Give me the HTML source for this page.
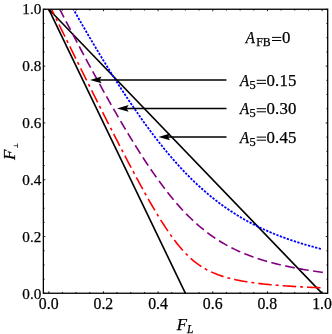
<!DOCTYPE html>
<html><head><meta charset="utf-8"><style>
html,body{margin:0;padding:0;background:#fff;}
svg{display:block;will-change:transform;font-family:"Liberation Serif",serif;}
</style></head><body>
<svg width="332" height="334" viewBox="0 0 332 334">
<rect width="332" height="334" fill="#fff"/>
<defs><clipPath id="c"><rect x="43.35" y="9.25" width="284.34999999999997" height="284.0"/></clipPath></defs>
<g clip-path="url(#c)" fill="none">
<path d="M48.8 9.299999999999955 L185.45 293.4" stroke="#000" stroke-width="1.6"/>
<path d="M48.8 9.299999999999955 L322.1 293.4" stroke="#000" stroke-width="1.6"/>
<path d="M73.40 9.30 L74.95 12.03 L76.51 14.76 L78.06 17.48 L79.61 20.19 L81.17 22.89 L82.72 25.58 L84.28 28.26 L85.83 30.94 L87.39 33.60 L88.94 36.26 L90.50 38.90 L92.05 41.53 L93.60 44.16 L95.16 46.77 L96.71 49.38 L98.27 51.97 L99.82 54.55 L101.38 57.12 L102.93 59.68 L104.48 62.23 L106.04 64.76 L107.59 67.28 L109.15 69.79 L110.70 72.29 L112.26 74.78 L113.81 77.25 L115.37 79.71 L116.92 82.15 L118.47 84.58 L120.03 87.00 L121.58 89.40 L123.14 91.79 L124.69 94.16 L126.25 96.52 L127.80 98.86 L129.36 101.19 L130.91 103.50 L132.46 105.80 L134.02 108.08 L135.57 110.34 L137.13 112.59 L138.68 114.81 L140.24 117.03 L141.79 119.22 L143.34 121.40 L144.90 123.55 L146.45 125.69 L148.01 127.82 L149.56 129.92 L151.12 132.00 L152.67 134.07 L154.23 136.11 L155.78 138.14 L157.33 140.15 L158.89 142.13 L160.44 144.10 L162.00 146.05 L163.55 147.97 L165.11 149.88 L166.66 151.76 L168.22 153.63 L169.77 155.47 L171.32 157.29 L172.88 159.09 L174.43 160.87 L175.99 162.63 L177.54 164.37 L179.10 166.08 L180.65 167.77 L182.20 169.45 L183.76 171.10 L185.31 172.72 L186.87 174.33 L188.42 175.92 L189.98 177.48 L191.53 179.02 L193.09 180.54 L194.64 182.04 L196.19 183.52 L197.75 184.97 L199.30 186.41 L200.86 187.82 L202.41 189.22 L203.97 190.59 L205.52 191.94 L207.07 193.27 L208.63 194.58 L210.18 195.87 L211.74 197.13 L213.29 198.38 L214.85 199.61 L216.40 200.82 L217.96 202.01 L219.51 203.18 L221.06 204.33 L222.62 205.46 L224.17 206.58 L225.73 207.67 L227.28 208.75 L228.84 209.81 L230.39 210.85 L231.95 211.87 L233.50 212.88 L235.05 213.86 L236.61 214.84 L238.16 215.79 L239.72 216.73 L241.27 217.65 L242.83 218.56 L244.38 219.45 L245.93 220.33 L247.49 221.19 L249.04 222.04 L250.60 222.87 L252.15 223.68 L253.71 224.49 L255.26 225.28 L256.82 226.05 L258.37 226.81 L259.92 227.56 L261.48 228.30 L263.03 229.02 L264.59 229.73 L266.14 230.43 L267.70 231.12 L269.25 231.79 L270.81 232.46 L272.36 233.11 L273.91 233.75 L275.47 234.38 L277.02 235.00 L278.58 235.61 L280.13 236.21 L281.69 236.80 L283.24 237.38 L284.79 237.95 L286.35 238.51 L287.90 239.06 L289.46 239.60 L291.01 240.13 L292.57 240.65 L294.12 241.17 L295.68 241.68 L297.23 242.18 L298.78 242.67 L300.34 243.15 L301.89 243.62 L303.45 244.09 L305.00 244.55 L306.56 245.00 L308.11 245.45 L309.66 245.88 L311.22 246.32 L312.77 246.74 L314.33 247.16 L315.88 247.57 L317.44 247.97 L318.99 248.37 L320.55 248.77 L322.10 249.15" stroke="#0000ff" stroke-width="1.8" stroke-dasharray="2.3 1.4" stroke-dashoffset="1.15"/>
<path d="M59.73 9.30 L61.38 12.47 L63.03 15.63 L64.67 18.79 L66.32 21.94 L67.97 25.08 L69.61 28.22 L71.26 31.35 L72.91 34.48 L74.55 37.60 L76.20 40.71 L77.84 43.81 L79.49 46.91 L81.14 50.00 L82.78 53.09 L84.43 56.16 L86.08 59.23 L87.72 62.29 L89.37 65.34 L91.02 68.38 L92.66 71.41 L94.31 74.43 L95.96 77.44 L97.60 80.45 L99.25 83.44 L100.90 86.42 L102.54 89.39 L104.19 92.34 L105.84 95.29 L107.48 98.22 L109.13 101.14 L110.78 104.05 L112.42 106.95 L114.07 109.83 L115.72 112.69 L117.36 115.54 L119.01 118.38 L120.66 121.20 L122.30 124.00 L123.95 126.79 L125.60 129.55 L127.24 132.31 L128.89 135.04 L130.54 137.75 L132.18 140.44 L133.83 143.12 L135.48 145.77 L137.12 148.40 L138.77 151.01 L140.42 153.59 L142.06 156.15 L143.71 158.69 L145.36 161.20 L147.00 163.69 L148.65 166.15 L150.30 168.58 L151.94 170.99 L153.59 173.37 L155.24 175.72 L156.88 178.04 L158.53 180.33 L160.18 182.59 L161.82 184.81 L163.47 187.01 L165.12 189.17 L166.76 191.30 L168.41 193.40 L170.06 195.46 L171.70 197.49 L173.35 199.49 L175.00 201.45 L176.64 203.37 L178.29 205.26 L179.94 207.11 L181.58 208.92 L183.23 210.70 L184.88 212.45 L186.52 214.15 L188.17 215.82 L189.82 217.45 L191.46 219.05 L193.11 220.61 L194.76 222.14 L196.40 223.63 L198.05 225.08 L199.70 226.50 L201.34 227.88 L202.99 229.23 L204.64 230.55 L206.28 231.83 L207.93 233.08 L209.58 234.30 L211.22 235.49 L212.87 236.64 L214.52 237.77 L216.16 238.86 L217.81 239.93 L219.46 240.96 L221.10 241.97 L222.75 242.95 L224.40 243.91 L226.04 244.84 L227.69 245.74 L229.34 246.62 L230.98 247.47 L232.63 248.30 L234.28 249.11 L235.92 249.90 L237.57 250.66 L239.21 251.41 L240.86 252.13 L242.51 252.84 L244.15 253.52 L245.80 254.19 L247.45 254.84 L249.09 255.47 L250.74 256.09 L252.39 256.69 L254.03 257.27 L255.68 257.84 L257.33 258.39 L258.97 258.93 L260.62 259.46 L262.27 259.97 L263.91 260.47 L265.56 260.95 L267.21 261.43 L268.85 261.89 L270.50 262.34 L272.15 262.78 L273.79 263.21 L275.44 263.63 L277.09 264.03 L278.73 264.43 L280.38 264.82 L282.03 265.20 L283.67 265.57 L285.32 265.93 L286.97 266.29 L288.61 266.63 L290.26 266.97 L291.91 267.30 L293.55 267.63 L295.20 267.94 L296.85 268.25 L298.49 268.55 L300.14 268.85 L301.79 269.14 L303.43 269.42 L305.08 269.70 L306.73 269.97 L308.37 270.23 L310.02 270.49 L311.67 270.75 L313.31 271.00 L314.96 271.24 L316.61 271.48 L318.25 271.72 L319.90 271.95 L321.55 272.17 L323.19 272.39" stroke="#800080" stroke-width="1.6" stroke-dasharray="9.8 4.42" stroke-dashoffset="0.72"/>
<path d="M51.53 9.30 L53.23 12.76 L54.93 16.22 L56.63 19.67 L58.32 23.13 L60.02 26.58 L61.72 30.03 L63.42 33.48 L65.12 36.93 L66.81 40.37 L68.51 43.81 L70.21 47.25 L71.91 50.69 L73.61 54.12 L75.30 57.56 L77.00 60.99 L78.70 64.41 L80.40 67.83 L82.09 71.25 L83.79 74.67 L85.49 78.08 L87.19 81.49 L88.89 84.90 L90.58 88.30 L92.28 91.70 L93.98 95.09 L95.68 98.48 L97.38 101.86 L99.07 105.24 L100.77 108.61 L102.47 111.98 L104.17 115.34 L105.87 118.70 L107.56 122.05 L109.26 125.39 L110.96 128.73 L112.66 132.05 L114.35 135.37 L116.05 138.69 L117.75 141.99 L119.45 145.28 L121.15 148.56 L122.84 151.84 L124.54 155.10 L126.24 158.35 L127.94 161.58 L129.64 164.81 L131.33 168.01 L133.03 171.21 L134.73 174.39 L136.43 177.55 L138.12 180.69 L139.82 183.81 L141.52 186.91 L143.22 189.99 L144.92 193.04 L146.61 196.07 L148.31 199.07 L150.01 202.05 L151.71 204.99 L153.41 207.90 L155.10 210.77 L156.80 213.61 L158.50 216.40 L160.20 219.16 L161.89 221.86 L163.59 224.52 L165.29 227.13 L166.99 229.68 L168.69 232.18 L170.38 234.62 L172.08 236.99 L173.78 239.30 L175.48 241.54 L177.18 243.71 L178.87 245.81 L180.57 247.83 L182.27 249.78 L183.97 251.65 L185.67 253.45 L187.36 255.16 L189.06 256.80 L190.76 258.36 L192.46 259.85 L194.15 261.26 L195.85 262.61 L197.55 263.88 L199.25 265.08 L200.95 266.22 L202.64 267.30 L204.34 268.32 L206.04 269.28 L207.74 270.19 L209.44 271.05 L211.13 271.86 L212.83 272.62 L214.53 273.35 L216.23 274.03 L217.92 274.68 L219.62 275.29 L221.32 275.87 L223.02 276.42 L224.72 276.94 L226.41 277.44 L228.11 277.91 L229.81 278.35 L231.51 278.78 L233.21 279.18 L234.90 279.56 L236.60 279.93 L238.30 280.28 L240.00 280.61 L241.70 280.93 L243.39 281.23 L245.09 281.52 L246.79 281.80 L248.49 282.06 L250.18 282.32 L251.88 282.56 L253.58 282.80 L255.28 283.02 L256.98 283.24 L258.67 283.45 L260.37 283.65 L262.07 283.84 L263.77 284.03 L265.47 284.20 L267.16 284.38 L268.86 284.54 L270.56 284.70 L272.26 284.86 L273.95 285.01 L275.65 285.15 L277.35 285.30 L279.05 285.43 L280.75 285.56 L282.44 285.69 L284.14 285.81 L285.84 285.93 L287.54 286.05 L289.24 286.16 L290.93 286.27 L292.63 286.38 L294.33 286.48 L296.03 286.58 L297.73 286.68 L299.42 286.77 L301.12 286.87 L302.82 286.95 L304.52 287.04 L306.21 287.13 L307.91 287.21 L309.61 287.29 L311.31 287.37 L313.01 287.45 L314.70 287.52 L316.40 287.59 L318.10 287.67 L319.80 287.74 L321.50 287.80 L323.19 287.87" stroke="#ff0000" stroke-width="1.6" stroke-dasharray="13.5 4.02 2.9 4.05" stroke-dashoffset="7.52"/>
</g>
<path d="M96.0 79.9 H226.5" stroke="#000" stroke-width="1.5" fill="none"/><path d="M90.0 79.9 L101.6 76.6 L99.6 79.9 L101.6 83.2 Z" fill="#000"/><path d="M123.0 108.4 H226.5" stroke="#000" stroke-width="1.5" fill="none"/><path d="M117.0 108.4 L128.6 105.1 L126.6 108.4 L128.6 111.7 Z" fill="#000"/><path d="M164.4 136.9 H226.5" stroke="#000" stroke-width="1.5" fill="none"/><path d="M158.4 136.9 L170.0 133.6 L168.0 136.9 L170.0 140.2 Z" fill="#000"/>
<rect x="43.35" y="9.25" width="284.34999999999997" height="284.0" fill="none" stroke="#000" stroke-width="1.3"/>
<path d="M48.80 293.25 v-2.0 M48.80 9.25 v2.0 M43.35 293.40 h2.0 M327.7 293.40 h-2.0 M62.46 293.25 v-1.3 M62.46 9.25 v1.3 M43.35 279.19 h1.3 M327.7 279.19 h-1.3 M76.13 293.25 v-1.3 M76.13 9.25 v1.3 M43.35 264.99 h1.3 M327.7 264.99 h-1.3 M89.79 293.25 v-1.3 M89.79 9.25 v1.3 M43.35 250.78 h1.3 M327.7 250.78 h-1.3 M103.46 293.25 v-2.0 M103.46 9.25 v2.0 M43.35 236.58 h2.0 M327.7 236.58 h-2.0 M117.12 293.25 v-1.3 M117.12 9.25 v1.3 M43.35 222.37 h1.3 M327.7 222.37 h-1.3 M130.79 293.25 v-1.3 M130.79 9.25 v1.3 M43.35 208.17 h1.3 M327.7 208.17 h-1.3 M144.45 293.25 v-1.3 M144.45 9.25 v1.3 M43.35 193.96 h1.3 M327.7 193.96 h-1.3 M158.12 293.25 v-2.0 M158.12 9.25 v2.0 M43.35 179.76 h2.0 M327.7 179.76 h-2.0 M171.79 293.25 v-1.3 M171.79 9.25 v1.3 M43.35 165.55 h1.3 M327.7 165.55 h-1.3 M185.45 293.25 v-1.3 M185.45 9.25 v1.3 M43.35 151.35 h1.3 M327.7 151.35 h-1.3 M199.12 293.25 v-1.3 M199.12 9.25 v1.3 M43.35 137.14 h1.3 M327.7 137.14 h-1.3 M212.78 293.25 v-2.0 M212.78 9.25 v2.0 M43.35 122.94 h2.0 M327.7 122.94 h-2.0 M226.44 293.25 v-1.3 M226.44 9.25 v1.3 M43.35 108.73 h1.3 M327.7 108.73 h-1.3 M240.11 293.25 v-1.3 M240.11 9.25 v1.3 M43.35 94.53 h1.3 M327.7 94.53 h-1.3 M253.78 293.25 v-1.3 M253.78 9.25 v1.3 M43.35 80.32 h1.3 M327.7 80.32 h-1.3 M267.44 293.25 v-2.0 M267.44 9.25 v2.0 M43.35 66.12 h2.0 M327.7 66.12 h-2.0 M281.11 293.25 v-1.3 M281.11 9.25 v1.3 M43.35 51.91 h1.3 M327.7 51.91 h-1.3 M294.77 293.25 v-1.3 M294.77 9.25 v1.3 M43.35 37.71 h1.3 M327.7 37.71 h-1.3 M308.44 293.25 v-1.3 M308.44 9.25 v1.3 M43.35 23.50 h1.3 M327.7 23.50 h-1.3 M322.10 293.25 v-2.0 M322.10 9.25 v2.0 M43.35 9.30 h2.0 M327.7 9.30 h-2.0" stroke="#000" stroke-width="0.85" fill="none"/>
<g font-size="15.2" fill="#000" stroke="#000" stroke-width="0.25"><text x="48.7" y="309" font-size="15.8" text-anchor="middle">0.0</text><text x="103.4" y="309" font-size="15.8" text-anchor="middle">0.2</text><text x="158.0" y="309" font-size="15.8" text-anchor="middle">0.4</text><text x="212.7" y="309" font-size="15.8" text-anchor="middle">0.6</text><text x="267.3" y="309" font-size="15.8" text-anchor="middle">0.8</text><text x="322.0" y="309" font-size="15.8" text-anchor="middle">1.0</text><text x="41.3" y="299.0" text-anchor="end">0.0</text><text x="41.3" y="242.0" text-anchor="end">0.2</text><text x="41.3" y="185.0" text-anchor="end">0.4</text><text x="41.3" y="128.0" text-anchor="end">0.6</text><text x="41.3" y="71.0" text-anchor="end">0.8</text><text x="41.3" y="14.0" text-anchor="end">1.0</text></g>
<g font-size="16.8" fill="#000" stroke="#000" stroke-width="0.25">
<text x="245.7" y="43.4" font-style="italic" textLength="9.1" lengthAdjust="spacingAndGlyphs">A</text><text x="256.2" y="45.5" font-size="11.8">FB</text><path d="M272 37.4 H281.3 M272 40.5 H281.3" stroke="#000" stroke-width="1"/><text x="282.1" y="43.4">0</text>
<text x="239.9" y="85.7" font-style="italic" textLength="9.1" lengthAdjust="spacingAndGlyphs">A</text><text x="249.5" y="88.8" font-size="12.4">5</text><path d="M256.7 80.3 H266 M256.7 83.4 H266" stroke="#000" stroke-width="1"/><text x="266.5" y="85.7" letter-spacing="0.2">0.15</text><text x="239.9" y="114.1" font-style="italic" textLength="9.1" lengthAdjust="spacingAndGlyphs">A</text><text x="249.5" y="117.2" font-size="12.4">5</text><path d="M256.7 108.7 H266 M256.7 111.8 H266" stroke="#000" stroke-width="1"/><text x="266.5" y="114.1" letter-spacing="0.2">0.30</text><text x="239.9" y="142.5" font-style="italic" textLength="9.1" lengthAdjust="spacingAndGlyphs">A</text><text x="249.5" y="145.6" font-size="12.4">5</text><path d="M256.7 137.1 H266 M256.7 140.2 H266" stroke="#000" stroke-width="1"/><text x="266.5" y="142.5" letter-spacing="0.2">0.45</text>
<text x="176.7" y="329.5"><tspan font-style="italic">F</tspan><tspan font-style="italic" font-size="11.5" dy="3.2">L</tspan></text>
<text transform="translate(14.9,160) rotate(-90)" font-style="italic">F</text>
<path d="M13.8 145.7 H17.5 M17.5 143.5 V147.9" stroke="#000" stroke-width="0.7" fill="none"/>
</g>
</svg>
</body></html>
